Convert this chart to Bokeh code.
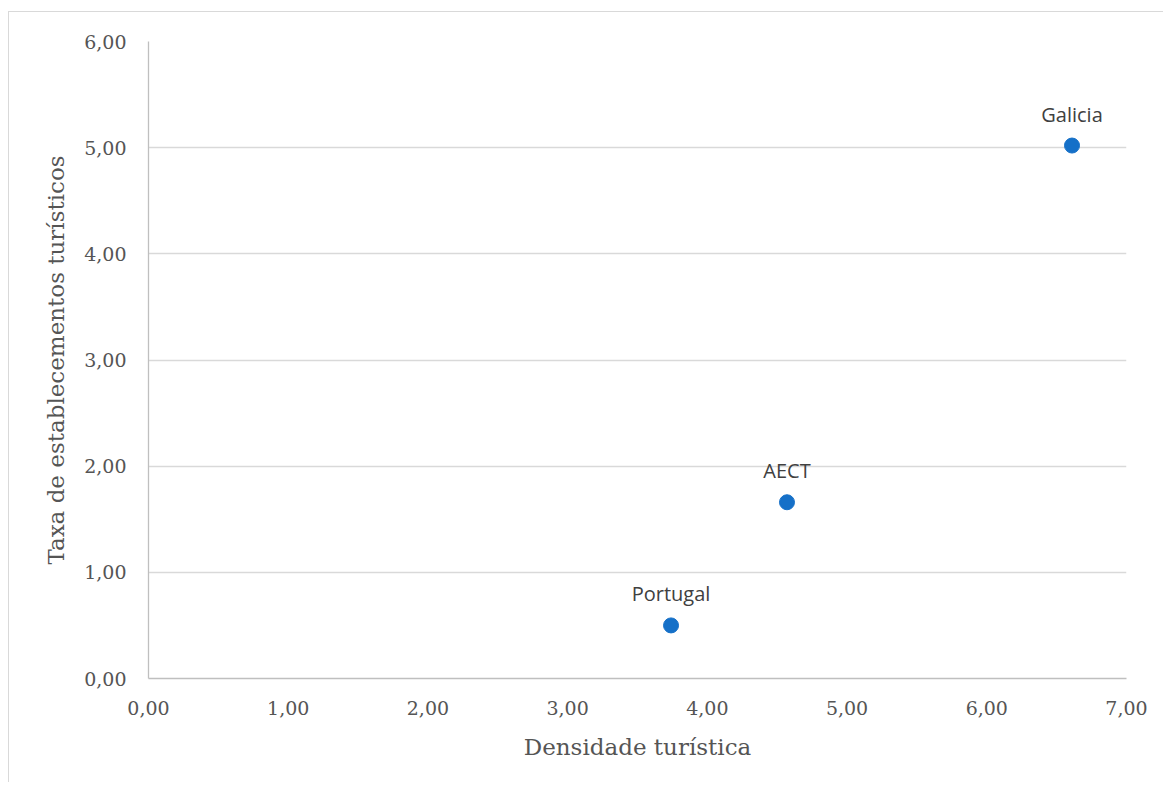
from bokeh.plotting import figure
from bokeh.models import ColumnDataSource, LabelSet, FixedTicker, CustomJSTickFormatter, Range1d
from bokeh.core.properties import value
from bokeh.embed import file_html
from bokeh.resources import INLINE

regions = ["Portugal", "AECT", "Galicia"]
densidade = [3.74, 4.57, 6.61]
taxa = [0.50, 1.66, 5.02]
x_ticks = [0, 1, 2, 3, 4, 5, 6, 7]
y_ticks = [0, 1, 2, 3, 4, 5, 6]

src = ColumnDataSource(dict(x=densidade, y=taxa, name=regions))

p = figure(width=1155, height=771, output_backend="svg", toolbar_location=None,
           x_range=Range1d(0, 7), y_range=Range1d(0, 6),
           min_border_left=139, min_border_right=38, min_border_top=29, min_border_bottom=105)
p.styles = {"border-left": "1px solid #d9d9d9", "border-top": "1px solid #d9d9d9",
            "margin-top": "11px", "margin-left": "8px"}
p.outline_line_color = None
p.background_fill_color = "white"
p.border_fill_color = "white"

fmt = CustomJSTickFormatter(code="return tick.toFixed(2).replace('.', ',');")
for ax, ticks in ((p.xaxis[0], x_ticks), (p.yaxis[0], y_ticks)):
    ax.ticker = FixedTicker(ticks=ticks)
    ax.formatter = fmt
    ax.major_tick_line_color = None
    ax.minor_tick_line_color = None
    ax.major_tick_out = 0
    ax.major_tick_in = 0
    ax.axis_line_color = "#bfbfbf"
    ax.axis_line_width = 1.3
    ax.major_label_text_font = "DejaVu Serif"
    ax.major_label_text_font_size = "19px"
    ax.major_label_text_color = "#555555"
    ax.axis_label_text_font = "DejaVu Serif"
    ax.axis_label_text_font_size = "23px"
    ax.axis_label_text_font_style = "normal"
    ax.axis_label_text_color = "#555555"

p.xaxis.axis_label = "Densidade turística"
p.yaxis.axis_label = "Taxa de establecementos turísticos"
p.xaxis.major_label_standoff = 22
p.yaxis.major_label_standoff = 22
p.xaxis.axis_label_standoff = 16
p.yaxis.axis_label_standoff = 12

p.xgrid.grid_line_color = None
p.ygrid.grid_line_color = "#d9d9d9"
p.ygrid.grid_line_width = 1.3

p.scatter("x", "y", source=src, size=15, fill_color="#1570c8", line_color="#1570c8")

labels = LabelSet(x="x", y="y", text="name", source=src, y_offset=24, text_align="center",
                  text_baseline="alphabetic", text_font=value("Open Sans"),
                  text_font_size=value("20px"), text_color=value("#404040"))
p.add_layout(labels)

open("out.html", "w").write(file_html(p, INLINE))
